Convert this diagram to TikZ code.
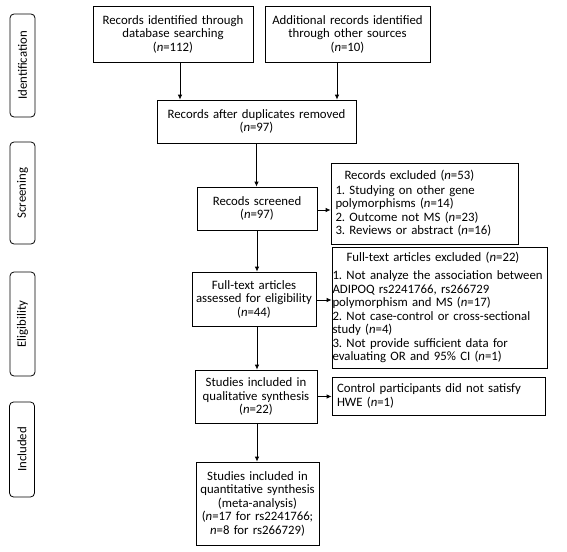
\documentclass[tikz,border=0pt]{standalone}
\usepackage{fontspec}
\setmainfont{Carlito}
\frenchspacing
\usetikzlibrary{arrows.meta,calc}
\begin{document}
\begin{tikzpicture}[x=1pt,y=-1pt,
  box/.style={draw, line width=0.8pt, inner sep=0pt, align=center, font=\fontsize{12.8}{13.5}\selectfont},
  side/.style={draw, rounded corners=4pt, line width=0.8pt, inner sep=0pt, rotate=90, minimum height=25pt, font=\fontsize{12.8}{13.5}\selectfont},
  arr/.style={-{Latex[length=5pt,width=4.5pt]}, line width=0.8pt}]
\useasboundingbox (0,0) rectangle (567,551);
% side labels
\node[side, minimum width=103pt] (sI) at (22.5,65.5) {Identification};
\node[side, minimum width=102pt] (sS) at (22.5,193) {Screening};
\node[side, minimum width=104pt] (sE) at (22.5,324) {Eligibility};
\node[side, minimum width=95pt] (sN) at (22,449.5) {Included};
% boxes
\node[box, minimum width=160pt, minimum height=56pt, text width=158pt] (b1) at (173,34)
  {Records identified through\\database searching\\(\textit{n}=112)};
\node[box, minimum width=165pt, minimum height=56pt, text width=163pt] (b2) at (347.5,34)
  {Additional records identified\\through other sources\\(\textit{n}=10)};
\node[box, minimum width=199pt, minimum height=43pt, text width=197pt] (b3) at (256.5,121.5)
  {Records after duplicates removed\\(\textit{n}=97)};
\node[box, minimum width=120pt, minimum height=43pt, text width=118pt] (b4) at (257,208.5)
  {Recods screened\\(\textit{n}=97)};
\node[box, minimum width=187pt, minimum height=81pt, text width=178pt, align=left] (b5) at (424.5,203.5)
  {\hspace*{9pt}Records excluded (\textit{n}=53)\\[1pt]
   1. Studying on other gene\\
   polymorphisms (\textit{n}=14)\\
   2. Outcome not MS (\textit{n}=23)\\
   3. Reviews or abstract (\textit{n}=16)};
\node[box, minimum width=124pt, minimum height=54pt, text width=124pt] (b6) at (254,299)
  {Full-text articles\\assessed for eligibility\\(\textit{n}=44)};
\node[box, minimum width=215pt, minimum height=121pt, text width=214pt, align=left] (b7) at (439.5,307.5)
  {\hspace*{14pt}Full-text articles excluded (\textit{n}=22)\\[5pt]
   1. Not analyze the association between\\
   ADIPOQ rs2241766, rs266729\\
   polymorphism and MS (\textit{n}=17)\\
   2. Not case-control or cross-sectional\\
   study (\textit{n}=4)\\
   3. Not provide sufficient data for\\
   evaluating OR and 95\% CI (\textit{n}=1)};
\node[box, minimum width=122pt, minimum height=53pt, text width=122pt] (b8) at (256,396.5)
  {Studies included in\\qualitative synthesis\\(\textit{n}=22)};
\node[box, minimum width=213pt, minimum height=38pt, text width=203pt, align=left] (b9) at (438.5,396)
  {Control participants did not satisfy\\HWE (\textit{n}=1)};
\node[box, minimum width=123pt, minimum height=83pt, text width=123pt] (b10) at (257.5,503.5)
  {Studies included in\\quantitative synthesis\\(meta-analysis)\\(\textit{n}=17 for rs2241766;\\\textit{n}=8 for rs266729)};
% connectors
\draw[arr] ([xshift=7pt]b1.south) -- ([xshift=7pt]b1.south |- b3.north);
\draw[arr] ([xshift=-10.5pt]b2.south) -- ([xshift=-10.5pt]b2.south |- b3.north);
\draw[arr] (b3.south) -- (b3.south |- b4.north);
\draw[arr] (b4.south) -- (b4.south |- b6.north);
\draw[arr] (b4.south |- b6.south) -- (b4.south |- b8.north);
\draw[arr] (b4.south |- b8.south) -- (b4.south |- b10.north);
\draw[arr] ([yshift=-1.5pt]b4.east) -- ([yshift=-1.5pt]b4.east -| b5.west);
\draw[arr] ([yshift=-1pt]b6.east) -- ([yshift=-1pt]b6.east -| b7.west);
\draw[arr] (b8.east) -- (b8.east -| b9.west);
\end{tikzpicture}
\end{document}
